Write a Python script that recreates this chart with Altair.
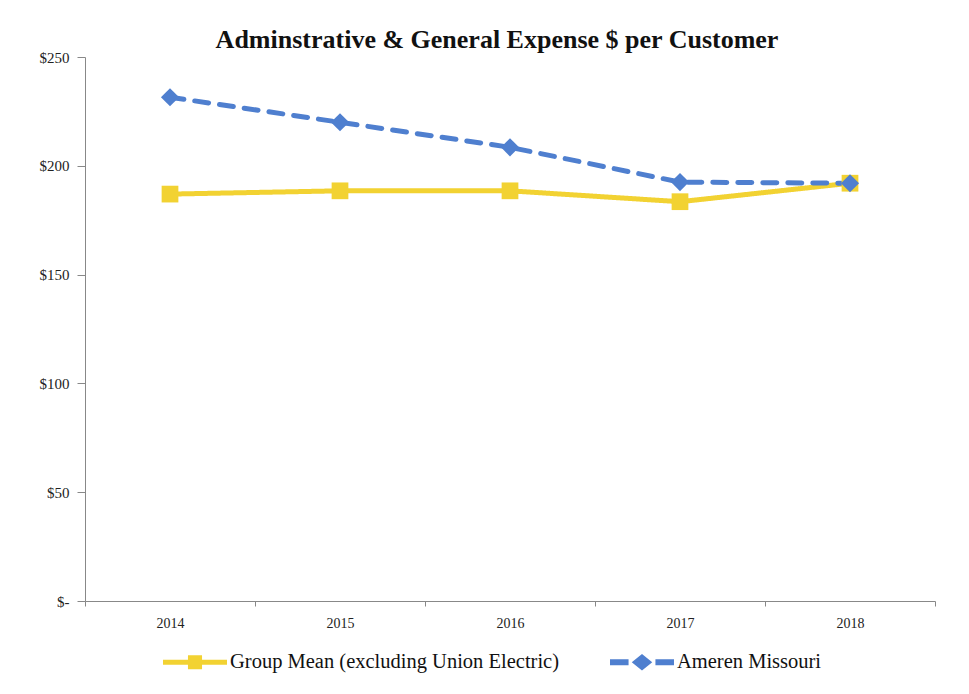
import altair as alt
import pandas as pd

years = ["2014", "2015", "2016", "2017", "2018"]
series_names = ["Group Mean (excluding Union Electric)", "Ameren Missouri"]
group_mean = [187, 188.5, 188.5, 183.5, 192]
ameren = [231.5, 220, 208.5, 192.5, 192]

colors = ["#F2D232", "#4F7FCF"]
markers = ["square", "diamond"]
marker_sizes = [280, 330]
legend_paths = [
    "M-1,-0.08H-0.22V-0.22H0.22V-0.08H1V0.08H0.22V0.22H-0.22V0.08H-1Z",
    "M-1,-0.09H-0.42V0.09H-1Z M-0.32,0L0,-0.26L0.32,0L0,0.26Z M0.42,-0.09H1V0.09H0.42Z",
]

rows = []
for name, vals in zip(series_names, [group_mean, ameren]):
    for y, v in zip(years, vals):
        rows.append({"year": y, "value": v, "series": name})
df = pd.DataFrame(rows)

FONT = "Liberation Serif"

x_enc = alt.X(
    "year:O",
    title=None,
    scale=alt.Scale(type="band", paddingInner=0, paddingOuter=0),
    axis=alt.Axis(
        labelAngle=0, tickBand="extent", tickSize=5, labelPadding=10,
        labelFont=FONT, labelFontSize=14, labelColor="#222",
        domainColor="#888", tickColor="#888", grid=False,
    ),
)
y_enc = alt.Y(
    "value:Q",
    title=None,
    scale=alt.Scale(domain=[0, 250], nice=False),
    axis=alt.Axis(
        values=[0, 50, 100, 150, 200, 250],
        labelExpr="datum.value == 0 ? '$-' : '$' + datum.value",
        tickSize=8, labelPadding=8, labelFont=FONT, labelFontSize=15,
        labelColor="#222", domainColor="#888", tickColor="#888", grid=False,
    ),
)
color_scale = alt.Scale(domain=series_names, range=colors)

leg = alt.Legend(
    orient="none", legendX=78, legendY=573, direction="horizontal", title=None,
    symbolSize=4096, symbolStrokeWidth=0, symbolOpacity=1, labelFont=FONT, labelFontSize=20.5,
    labelColor="#111", labelOffset=3, labelLimit=500, columnPadding=50, padding=0,
)
color_enc = alt.Color("series:N", scale=color_scale, legend=leg)

lines = alt.Chart(df).mark_line(strokeWidth=5, strokeCap="round").encode(
    x=x_enc, y=y_enc,
    color=color_enc,
    strokeDash=alt.StrokeDash("series:N", scale=alt.Scale(domain=series_names, range=[[1, 0], [14, 11]]), legend=None),
    order=alt.Order("year:O"),
)

point_layers = []
for name, m, s in zip(series_names, markers, marker_sizes):
    point_layers.append(
        alt.Chart(df).transform_filter(alt.datum.series == name)
        .mark_point(filled=True, opacity=1, size=s, shape=m)
        .encode(x=x_enc, y=y_enc, color=color_enc)
    )

legend_layer = alt.Chart(df).mark_point(filled=True, opacity=0, size=1).encode(
    x=x_enc, y=y_enc,
    color=color_enc,
    shape=alt.Shape("series:N", scale=alt.Scale(domain=series_names, range=legend_paths), legend=leg),
)

chart = alt.layer(lines, *point_layers, legend_layer).properties(
    width=850, height=544,
    autosize=alt.AutoSizeParams(type="none"),
    padding={"left": 77, "top": 49, "right": 26, "bottom": 80},
    title=alt.TitleParams(
        "Adminstrative & General Expense $ per Customer",
        font=FONT, fontSize=26, fontWeight="bold", color="#111",
        anchor="middle", dx=-13, dy=15, offset=12,
    ),
).configure(background="white").configure_view(stroke=None)

chart.save("out.html", embed_options={"renderer": "svg", "actions": False})
